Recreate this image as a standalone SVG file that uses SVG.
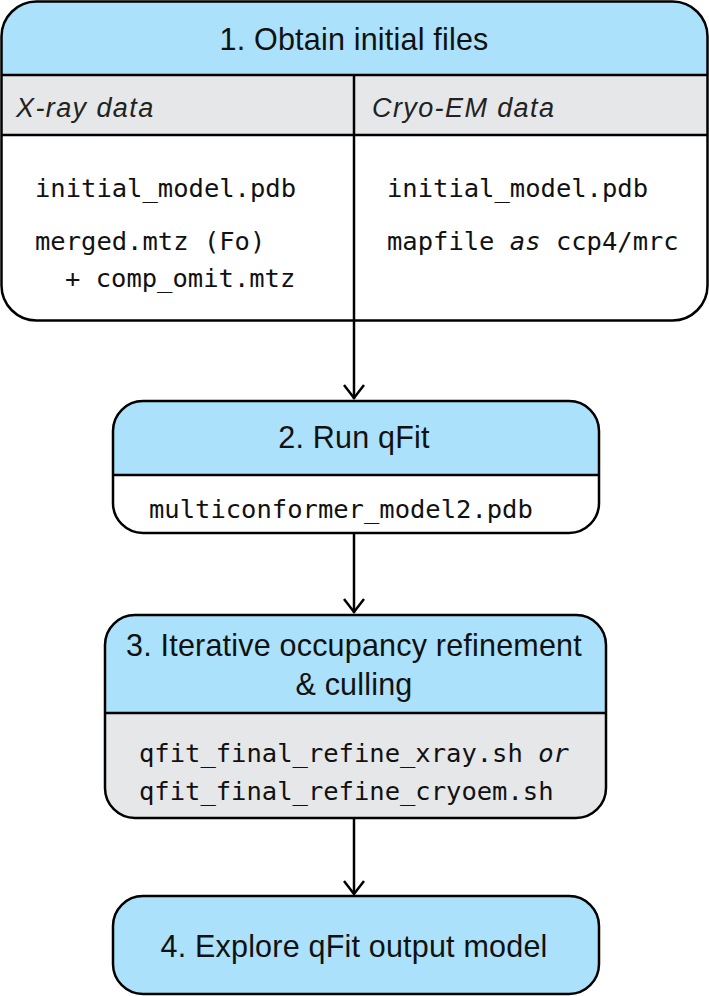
<svg xmlns="http://www.w3.org/2000/svg" width="709" height="996" viewBox="0 0 709 996">
<style>
.outline{fill:none;stroke:#000;stroke-width:2.5}
.sep{stroke:#000;stroke-width:2.5}
.blue{fill:#abe1fa}
.gray{fill:#e6e7e8}
.white{fill:#fff}
.title{font-family:"Liberation Sans",Arial,sans-serif;font-size:30.5px;letter-spacing:0.2px;fill:#111;text-anchor:middle}
.sub{font-family:"Liberation Sans",Arial,sans-serif;font-size:27px;letter-spacing:1.4px;font-style:italic;fill:#222}
.mono{font-family:"DejaVu Sans Mono","Liberation Mono",monospace;font-size:25.5px;fill:#111}
.it{font-style:italic}
.conn{fill:none;stroke:#000;stroke-width:2.5}
</style>
<defs>
<clipPath id="c1"><rect x="1.5" y="1.5" width="706" height="319" rx="35"/></clipPath>
<clipPath id="c2"><rect x="113" y="401" width="486" height="132" rx="30"/></clipPath>
<clipPath id="c3"><rect x="105" y="615" width="501" height="203" rx="30"/></clipPath>
</defs>
<rect width="709" height="996" fill="#fff"/>
<g id="connectors">
<line class="conn" x1="354" y1="321" x2="354" y2="399"/>
<path class="conn" d="M344,385 L354,398 L364,385"/>
<line class="conn" x1="354" y1="533" x2="354" y2="613"/>
<path class="conn" d="M344,599 L354,612 L364,599"/>
<line class="conn" x1="354" y1="818" x2="354" y2="894"/>
<path class="conn" d="M344,881 L354,894 L364,881"/>
</g>
<g id="node1">
<g clip-path="url(#c1)">
<rect class="white" x="0" y="0" width="709" height="322"/>
<rect class="blue" x="0" y="0" width="709" height="75"/>
<rect class="gray" x="0" y="75" width="709" height="60"/>
</g>
<line class="sep" x1="1.5" y1="75" x2="707.5" y2="75"/>
<line class="sep" x1="1.5" y1="135" x2="707.5" y2="135"/>
<line class="sep" x1="354" y1="75" x2="354" y2="320"/>
<rect class="outline" x="1.5" y="1.5" width="706" height="319" rx="35"/>
<text class="title" x="354" y="50">1. Obtain initial files</text>
<text class="sub" x="16" y="117">X-ray data</text>
<text class="sub" x="372" y="117">Cryo-EM data</text>
<text class="mono" x="35" y="197">initial_model.pdb</text>
<text class="mono" x="35" y="250">merged.mtz (Fo)</text>
<text class="mono" x="65" y="287">+ comp_omit.mtz</text>
<text class="mono" x="387" y="197">initial_model.pdb</text>
<text class="mono" x="387" y="250">mapfile <tspan class="it">as</tspan> ccp4/mrc</text>
</g>
<g id="node2">
<g clip-path="url(#c2)">
<rect class="white" x="113" y="401" width="486" height="132"/>
<rect class="blue" x="113" y="401" width="486" height="74"/>
</g>
<line class="sep" x1="113" y1="475" x2="599" y2="475"/>
<rect class="outline" x="113" y="401" width="486" height="132" rx="30"/>
<text class="title" x="354" y="448">2. Run qFit</text>
<text class="mono" x="149" y="518">multiconformer_model2.pdb</text>
</g>
<g id="node3">
<g clip-path="url(#c3)">
<rect class="gray" x="105" y="615" width="501" height="203"/>
<rect class="blue" x="105" y="615" width="501" height="98"/>
</g>
<line class="sep" x1="105" y1="713" x2="606" y2="713"/>
<rect class="outline" x="105" y="615" width="501" height="203" rx="30"/>
<text class="title" x="354" y="656">3. Iterative occupancy refinement</text>
<text class="title" x="354" y="695">&amp; culling</text>
<text class="mono" x="139" y="762">qfit_final_refine_xray.sh <tspan class="it">or</tspan></text>
<text class="mono" x="139" y="800">qfit_final_refine_cryoem.sh</text>
</g>
<g id="node4">
<rect class="blue" x="113" y="896" width="486" height="98" rx="30"/>
<rect class="outline" x="113" y="896" width="486" height="98" rx="30"/>
<text class="title" x="354" y="957">4. Explore qFit output model</text>
</g>
</svg>
